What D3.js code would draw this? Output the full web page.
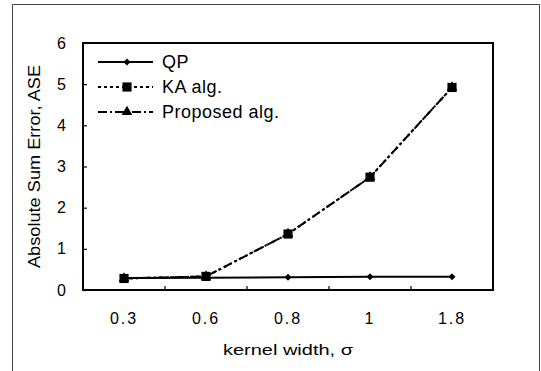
<!DOCTYPE html>
<html>
<head>
<meta charset="utf-8">
<script src="https://cdn.jsdelivr.net/npm/d3@7"></script>
<style>
  body { margin: 0; background: #fff; }
  text { font-family: "Liberation Sans", Arial, sans-serif; fill: #000; }
</style>
</head>
<body>
<svg width="541" height="371"></svg>
<script>
// data
var categories = ["0.3", "0.6", "0.8", "1", "1.8"];
var qpValues = [0.29, 0.30, 0.31, 0.32, 0.32];
var kaValues = [0.28, 0.33, 1.36, 2.74, 4.92];
var proposedValues = [0.28, 0.33, 1.36, 2.74, 4.92];
var yTicks = [0, 1, 2, 3, 4, 5, 6];
var seriesNames = ["QP", "KA alg.", "Proposed alg."];

var svg = d3.select("svg");
var margin = {top: 43, right: 48, bottom: 81, left: 83},
    width = 541 - margin.left - margin.right,
    height = 371 - margin.top - margin.bottom;

// outer frame (scanned figure border)
svg.append("path")
    .attr("d", "M12.5,371 L12.5,4.5 L539.5,4.5 L539.5,371")
    .attr("fill", "none")
    .attr("stroke", "#444")
    .attr("stroke-width", 1);

var g = svg.append("g").attr("transform", "translate(" + margin.left + "," + margin.top + ")");

var xBand = d3.scaleBand().domain(categories).range([0, width]);
var x = function(d) { return xBand(d) + xBand.bandwidth() / 2; };
var y = d3.scaleLinear().domain([0, 6]).range([height, 0]);

// y axis, ticks pointing inward
var yAxis = g.append("g")
    .call(d3.axisLeft(y).tickValues(yTicks).tickFormat(d3.format("d")).tickSize(-4).tickPadding(17));
yAxis.select(".domain").remove();
yAxis.selectAll("line").attr("stroke-width", 1.2);
yAxis.selectAll("text").attr("font-size", 16).attr("font-family", "Liberation Sans, Arial, sans-serif");

// x axis labels centred in each category
var xAxis = g.append("g")
    .attr("transform", "translate(0," + height + ")")
    .call(d3.axisBottom(xBand).tickSize(0).tickPadding(23));
xAxis.select(".domain").remove();
xAxis.selectAll("text").attr("font-size", 16).attr("letter-spacing", 2).attr("font-family", "Liberation Sans, Arial, sans-serif");

// small inward ticks between categories
g.selectAll(".xtick")
    .data(categories.slice(1))
    .enter().append("line")
    .attr("x1", function(d) { return xBand(d); })
    .attr("x2", function(d) { return xBand(d); })
    .attr("y1", height)
    .attr("y2", height - 4)
    .attr("stroke", "#000")
    .attr("stroke-width", 1.2);

// plot frame
g.append("rect")
    .attr("width", width)
    .attr("height", height)
    .attr("fill", "none")
    .attr("stroke", "#000")
    .attr("stroke-width", 2);

// axis titles
g.append("text")
    .attr("transform", "translate(-49," + (height / 2) + ") rotate(-90)")
    .attr("text-anchor", "middle")
    .attr("dy", "0.35em")
    .attr("font-size", 16)
    .attr("textLength", 203)
    .attr("lengthAdjust", "spacingAndGlyphs")
    .text("Absolute Sum Error, ASE");

g.append("text")
    .attr("x", width / 2)
    .attr("y", height + 65)
    .attr("text-anchor", "middle")
    .attr("font-size", 15)
    .attr("textLength", 130)
    .attr("lengthAdjust", "spacingAndGlyphs")
    .text("kernel width, σ");

var line = d3.line()
    .x(function(d, i) { return x(categories[i]); })
    .y(function(d) { return y(d); });

var diamond = d3.symbolDiamond2 || d3.symbolDiamond;

var series = [
    {name: seriesNames[2], values: proposedValues, dash: "9,3,2,3", symbol: d3.symbolTriangle, size: 50},
    {name: seriesNames[1], values: kaValues, dash: "3,3", symbol: d3.symbolSquare, size: 84},
    {name: seriesNames[0], values: qpValues, dash: null, symbol: diamond, size: 32}
];

series.forEach(function(s) {
    g.append("path")
        .datum(s.values)
        .attr("fill", "none")
        .attr("stroke", "#000")
        .attr("stroke-width", 2)
        .attr("stroke-dasharray", s.dash)
        .attr("d", line);
    g.selectAll(null)
        .data(s.values)
        .enter().append("path")
        .attr("transform", function(d, i) { return "translate(" + x(categories[i]) + "," + y(d) + ")"; })
        .attr("d", d3.symbol().type(s.symbol).size(s.size))
        .attr("fill", "#000");
});

// legend
var legendOrder = [series[2], series[1], series[0]];
var legend = g.selectAll(".legend")
    .data(legendOrder)
    .enter().append("g")
    .attr("transform", function(d, i) { return "translate(15," + (19 + i * 25) + ")"; });

legend.append("line")
    .attr("x1", 0).attr("x2", 55)
    .attr("stroke", "#000")
    .attr("stroke-width", 2)
    .attr("stroke-dasharray", function(d) { return d.dash; });
legend.append("path")
    .attr("transform", "translate(29,0)")
    .attr("d", function(d) { return d3.symbol().type(d.symbol).size(d.size)(); })
    .attr("fill", "#000");
legend.append("text")
    .attr("x", 64)
    .attr("dy", "0.36em")
    .attr("font-size", 18)
    .attr("letter-spacing", 0.5)
    .text(function(d) { return d.name; });
</script>
</body>
</html>
